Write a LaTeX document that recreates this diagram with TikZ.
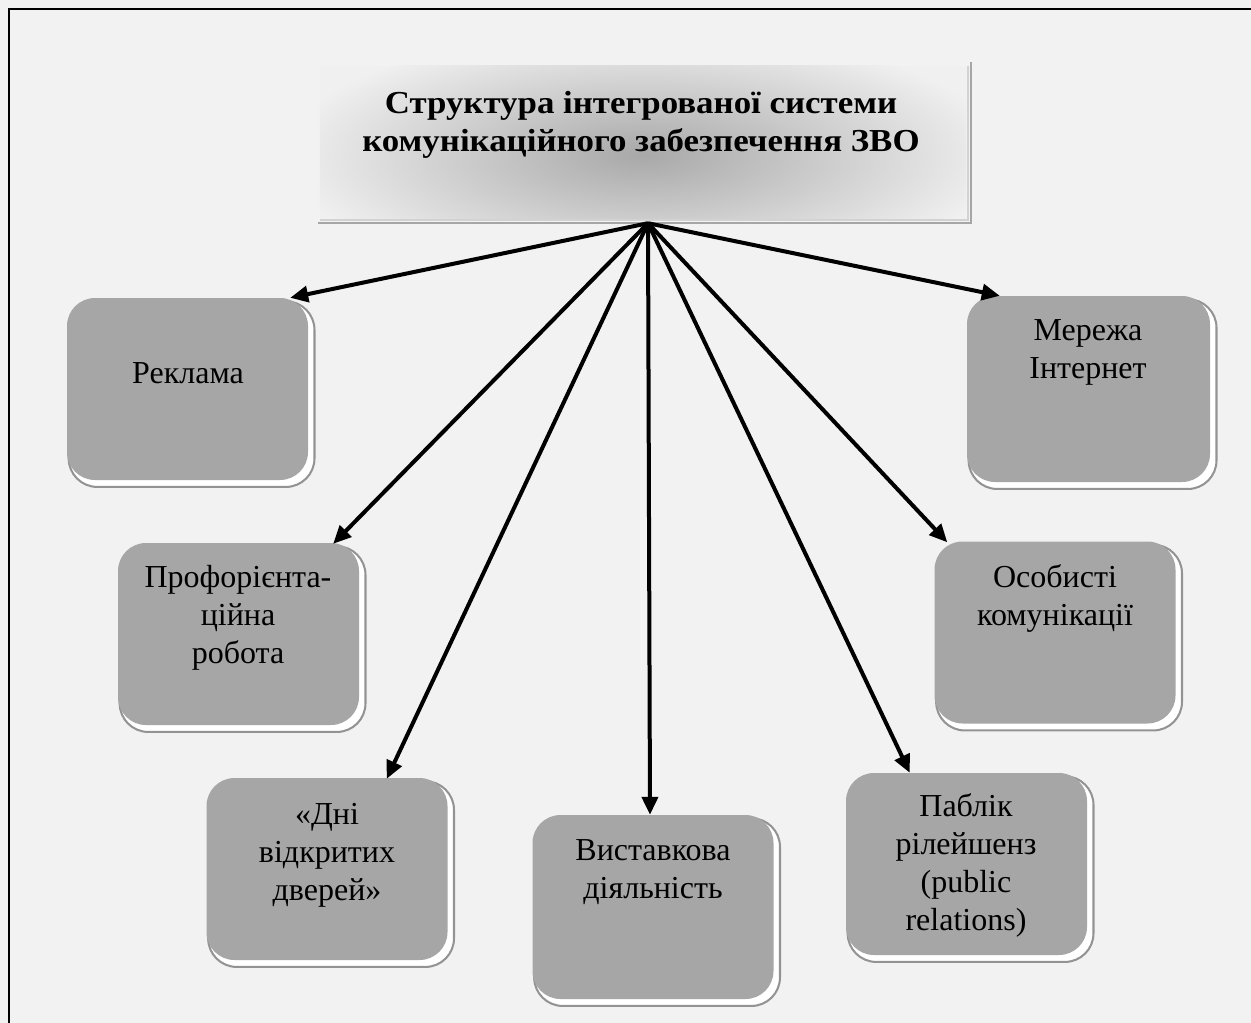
\documentclass[tikz,border=0pt]{standalone}
\usepackage{fontspec}
\setmainfont{Liberation Serif}
\newfontface\titlefont[FakeStretch=1.09]{Liberation Serif Bold}
\usetikzlibrary{calc,arrows.meta,shadows}
\definecolor{bg}{HTML}{F2F2F2}
\definecolor{boxgray}{HTML}{A6A6A6}
\tikzset{
  gbox/.style={rectangle, rounded corners=28pt, fill=boxgray, draw=none, inner sep=0pt,
    minimum width=241pt, minimum height=182pt,
    general shadow={fill=white, draw=gray!85, line width=2pt, shadow xshift=4pt, shadow yshift=-5pt, shadow scale=1.02}},
  btext/.style={align=center, font=\fontsize{32pt}{38pt}\selectfont, inner sep=0pt},
  ttext/.style={align=center, font=\titlefont\fontsize{32pt}{38pt}\selectfont, inner sep=0pt},
  arr/.style={line width=4pt, -{Triangle[length=18pt,width=16pt]}},
}
\begin{document}
\begin{tikzpicture}[x=1pt,y=-1pt]
\useasboundingbox (0,0) rectangle (1251,1023);
\fill[bg] (0,0) rectangle (1251,1023);
\clip (0,0) rectangle (1251,1023);
\draw[line width=2.5pt] (9,9) rectangle (1280,1060);

% title
\node[rectangle, minimum width=646pt, minimum height=152pt, fill=gray!12, inner sep=0pt] (title) at (643,142) {};
\draw[gray!35, line width=2pt] ($(title.south west)+(0,1.5)$) -- ($(title.south east)+(1.5,1.5)$) -- ($(title.north east)+(1.5,0)$);
\draw[gray!70, line width=2pt] ($(title.south west)+(-2,4.5)$) -- ($(title.south east)+(4.5,4.5)$) -- ($(title.north east)+(4.5,-4)$);
\begin{scope}
  \clip (title.south west) rectangle (title.north east);
  \shade[inner color=gray!68, outer color=gray!12] (643,155) ellipse (360pt and 125pt);
\end{scope}
\node[ttext] (tt) at (641,125) {Структура інтегрованої системи\\комунікаційного забезпечення ЗВО};

% boxes
\node[gbox] (b1) at (187.5,389) {};
\node[btext] (t1) at (188,373) {Реклама};
\node[gbox, minimum width=243pt, minimum height=186pt] (b2) at (1088.5,389) {};
\node[btext] (t2) at (1088,352) {Мережа\\Інтернет};
\node[gbox] (b3) at (238.5,634) {};
\node[btext] (t3) at (238,618) {Профорієнта-\\ційна\\робота};
\node[gbox] (b4) at (1055,632.5) {};
\node[btext] (t4) at (1055,598) {Особисті\\комунікації};
\node[gbox] (b5) at (327,869) {};
\node[btext] (t5) at (327,855) {«Дні\\відкритих\\дверей»};
\node[gbox, minimum height=184pt] (b6) at (653,907) {};
\node[btext] (t6) at (653,872) {Виставкова\\діяльність};
\node[gbox] (b7) at (966.5,864) {};
\node[btext] (t7) at (966,865) {Паблік\\рілейшенз\\(public\\relations)};

% arrows
\coordinate (hub) at ($(title.south)+(5,5)$);
\draw[arr] (hub) -- ($(b1.north east)+(-18,0)$);
\draw[arr] (hub) -- ($(b3.north east)+(-26,1)$);
\draw[arr] (hub) -- ($(b5.north east)+(-61,1)$);
\draw[arr] (hub) -- ($(b6.north)+(-3,0)$);
\draw[arr] (hub) -- ($(b7.north west)+(64,0)$);
\draw[arr] (hub) -- ($(b4.north west)+(13,1)$);
\draw[arr] (hub) -- ($(b2.north west)+(33,0)$);
\end{tikzpicture}
\end{document}
